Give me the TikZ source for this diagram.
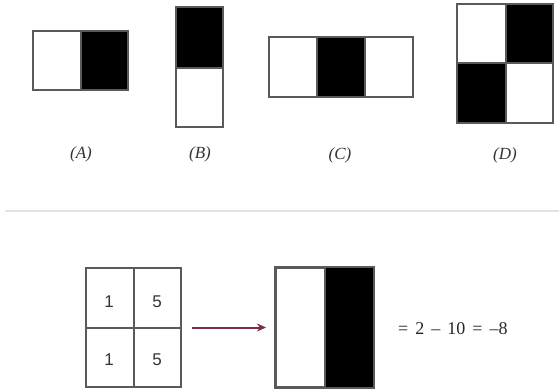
\documentclass[tikz,border=0pt]{standalone}
\usepackage{fontspec}
\setmainfont{Liberation Serif}
\newfontfamily\digitfont{Liberation Sans}
\usetikzlibrary{arrows.meta}
\definecolor{edge}{HTML}{5A5A5A}
\definecolor{rule}{HTML}{E2E2E2}
\definecolor{maroon}{HTML}{7A2E3E}
\newcommand{\gap}{\hspace{7pt}}
\begin{document}
\begin{tikzpicture}[x=1pt,y=-1pt,
  cell/.style={draw=edge,line width=2pt},
  dark/.style={fill=black},
  caption/.style={font=\fontsize{17}{19}\selectfont\itshape, text=black!80},
  num/.style={font=\digitfont\fontsize{17}{19}\selectfont, text=black!80},
  box/.style={draw=edge,line width=2pt,inner sep=0pt,minimum width=95pt,minimum height=119pt}]
\useasboundingbox (0,0) rectangle (559,390);

% (A) two-rectangle feature, dark on the right
\fill[dark] (81,31) rectangle (128,90);
\draw[cell] (33,31) rectangle (128,90);
\draw[cell] (81,31) -- (81,90);
\node[caption] (capA) at (81,154) {(A)};

% (B) two-rectangle feature, dark on top
\fill[dark] (176,7) rectangle (223,68);
\draw[cell] (176,7) rectangle (223,127);
\draw[cell] (176,68) -- (223,68);
\node[caption] (capB) at (200,154) {(B)};

% (C) three-rectangle feature, dark in the middle
\fill[dark] (317,37) rectangle (365,97);
\draw[cell] (269,37) rectangle (413,97);
\draw[cell] (317,37) -- (317,97);
\draw[cell] (365,37) -- (365,97);
\node[caption] (capC) at (340,155) {(C)};

% (D) four-rectangle feature, checkerboard
\fill[dark] (506,4) rectangle (553,63);
\fill[dark] (457,63) rectangle (506,123);
\draw[cell] (457,4) rectangle (553,123);
\draw[cell] (506,4) -- (506,123);
\draw[cell] (457,63) -- (553,63);
\node[caption] (capD) at (505,155) {(D)};

% separator
\draw[rule,line width=1.8pt] (5,211) -- (559,211);

% pixel values
\node[box] (grid) at (133.5,327.5) {};
\draw[cell] (grid.north) -- (grid.south);
\draw[cell] (grid.west) -- (grid.east);
\node[num] (n11) at (109,302) {1};
\node[num] (n12) at (157,302) {5};
\node[num] (n21) at (109,360) {1};
\node[num] (n22) at (157,360) {5};

% feature applied to the values
\node[box,minimum width=97pt] (feat) at (324.5,327.5) {};
\fill[dark] (325,268) rectangle (feat.south east);
\draw[cell] (feat.north west) rectangle (feat.south east);
\draw[cell] (325,268) -- (325,387);

\draw[maroon,line width=2pt,-{Stealth[length=9pt,width=8pt]}] ([xshift=10pt]grid.east) -- ([xshift=-9pt]feat.west);

\node[font=\fontsize{18}{20}\selectfont, text=black!85, anchor=west, inner sep=0pt] (result) at (398,329) {=\gap2\gap--\gap10\gap=\gap--8};
\end{tikzpicture}
\end{document}
